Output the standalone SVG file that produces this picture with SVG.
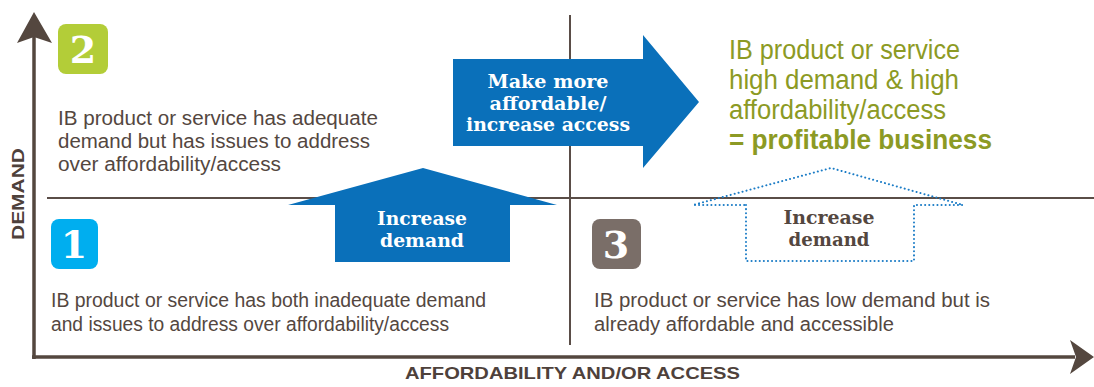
<svg xmlns="http://www.w3.org/2000/svg" width="1094" height="387" viewBox="0 0 1094 387">
<style>
.ax{stroke:#54473f;stroke-width:3.5;fill:none}
.grid{stroke:#5a4d47;stroke-width:2;fill:none}
.body{font-family:"Liberation Sans",Arial,sans-serif;font-size:20px;fill:#54473f}
.green{font-family:"Liberation Sans",Arial,sans-serif;font-size:27px;fill:#8c9a24}
.slab{font-family:"DejaVu Serif","Liberation Serif",serif;font-weight:bold;font-size:18px;text-anchor:middle}
.badge{font-family:"DejaVu Serif","Liberation Serif",serif;font-weight:bold;font-size:38px;fill:#fff;text-anchor:middle}
.lab{font-family:"Liberation Sans",Arial,sans-serif;font-weight:bold;font-size:17px;fill:#4e413b}
</style>
<rect width="1094" height="387" fill="#fff"/>
<g id="axes">
<line class="ax" x1="34" y1="359" x2="34" y2="36"/>
<path d="M34,12 L52,43 L34,37 L17,43 Z" fill="#54473f"/>
<line class="ax" x1="32" y1="357" x2="1075" y2="357"/>
<path d="M1094,357 L1070,374 L1076,357 L1070,340 Z" fill="#54473f"/>
<line class="grid" x1="47" y1="198" x2="1094" y2="198"/>
<line class="grid" x1="570" y1="15" x2="570" y2="345"/>
<text class="lab" transform="translate(24,194) rotate(-90)" text-anchor="middle" textLength="92" lengthAdjust="spacingAndGlyphs">DEMAND</text>
<text class="lab" x="405" y="379" textLength="335" lengthAdjust="spacingAndGlyphs">AFFORDABILITY AND/OR ACCESS</text>
</g>
<g id="q2">
<rect x="58" y="24" width="50" height="50" rx="8" fill="#b3cd38"/>
<text class="badge" x="83" y="63">2</text>
<text class="body" x="58" y="125" textLength="320" lengthAdjust="spacingAndGlyphs">IB product or service has adequate</text>
<text class="body" x="58" y="148" textLength="312" lengthAdjust="spacingAndGlyphs">demand but has issues to address</text>
<text class="body" x="58" y="171" textLength="223" lengthAdjust="spacingAndGlyphs">over affordability/access</text>
</g>
<g id="q1">
<rect x="51" y="219" width="47" height="50" rx="8" fill="#00aeef"/>
<text class="badge" x="74" y="258">1</text>
<text class="body" x="51" y="307" textLength="435" lengthAdjust="spacingAndGlyphs">IB product or service has both inadequate demand</text>
<text class="body" x="51" y="331" textLength="398" lengthAdjust="spacingAndGlyphs">and issues to address over affordability/access</text>
</g>
<g id="q3">
<rect x="592" y="219" width="49" height="50" rx="8" fill="#7a6e68"/>
<text class="badge" x="616" y="258">3</text>
<text class="body" x="594" y="307" textLength="396" lengthAdjust="spacingAndGlyphs">IB product or service has low demand but is</text>
<text class="body" x="594" y="331" textLength="300" lengthAdjust="spacingAndGlyphs">already affordable and accessible</text>
</g>
<g id="q4">
<text class="green" x="729" y="59" textLength="231" lengthAdjust="spacingAndGlyphs">IB product or service</text>
<text class="green" x="729" y="89" textLength="230" lengthAdjust="spacingAndGlyphs">high demand &amp; high</text>
<text class="green" x="729" y="119" textLength="217" lengthAdjust="spacingAndGlyphs">affordability/access</text>
<text class="green" x="729" y="149" font-weight="bold" textLength="263" lengthAdjust="spacingAndGlyphs">= profitable business</text>
</g>
<g id="connectors">
<g id="arrow-affordable">
<path d="M453,59 H643 V35 L699,102 L643,168 V146 H453 Z" fill="#0a70ba"/>
<text class="slab" fill="#fff" x="548" y="88" textLength="121" lengthAdjust="spacingAndGlyphs">Make more</text>
<text class="slab" fill="#fff" x="548" y="110" textLength="117" lengthAdjust="spacingAndGlyphs">affordable/</text>
<text class="slab" fill="#fff" x="548" y="131" textLength="164" lengthAdjust="spacingAndGlyphs">increase access</text>
</g>
<g id="arrow-demand">
<path d="M288,205 L423,168 L557,205 H510 V262 H335 V205 Z" fill="#0a70ba"/>
<text class="slab" fill="#fff" x="422" y="225" textLength="90" lengthAdjust="spacingAndGlyphs">Increase</text>
<text class="slab" fill="#fff" x="422" y="247" textLength="84" lengthAdjust="spacingAndGlyphs">demand</text>
</g>
<g id="arrow-demand-dotted">
<path d="M746,205 V261 H914 V205 H963 L831,168 L693,205 Z" fill="none" stroke="#1b7cc6" stroke-width="2" stroke-dasharray="0.1 4" stroke-linecap="round"/>
<text class="slab" fill="#54473f" x="829" y="224" textLength="91" lengthAdjust="spacingAndGlyphs">Increase</text>
<text class="slab" fill="#54473f" x="829" y="246" textLength="81" lengthAdjust="spacingAndGlyphs">demand</text>
</g>
</g>
</svg>
